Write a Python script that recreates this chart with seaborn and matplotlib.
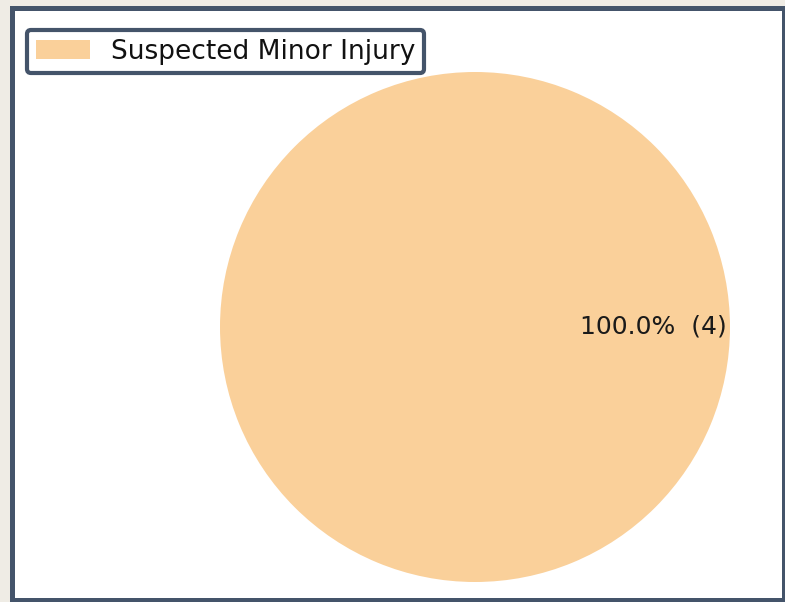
import matplotlib
matplotlib.use("Agg")
import matplotlib.pyplot as plt
from matplotlib.patches import Rectangle
import seaborn as sns

# Injury severity counts
categories = ["Suspected Minor Injury"]
counts = [4]
colors = ["#fad09a"]

sns.set_theme(style="white")
plt.rcParams["font.family"] = ["DejaVu Sans"]

W, H = 785, 602
fig = plt.figure(figsize=(W / 100, H / 100), dpi=100, facecolor="#efece5")

# Framed white panel
panel = Rectangle((11.5 / W, 2.5 / H), (781 - 11.5 + 2.5) / W, (592 - 2.5 + 2.5) / H,
                  transform=fig.transFigure, facecolor="white",
                  edgecolor="#44546a", linewidth=3.6, zorder=-5)
fig.patches.append(panel)

# Pie axes: square box around the pie
cx, cy, r = 475, 327, 255
ax = fig.add_axes([(cx - r) / W, (H - cy - r) / H, 2 * r / W, 2 * r / H])
ax.set_facecolor("none")
ax.set_zorder(1)

total = sum(counts)
wedges, texts, autotexts = ax.pie(
    counts,
    colors=colors,
    startangle=180,
    radius=1.0,
    pctdistance=0.70,
    autopct=lambda p: f"{p:.1f}%  ({round(p * total / 100)})",
    textprops={"fontsize": 18, "color": "#1a1a1a"},
    wedgeprops={"linewidth": 0},
)
ax.set_xlim(-1, 1)
ax.set_ylim(-1, 1)
ax.set_aspect("auto")
ax.axis("off")
for t in autotexts:
    t.set_clip_on(False)

leg = fig.legend(
    wedges, categories,
    loc="upper left",
    bbox_to_anchor=(27 / W, 1 - 30 / H),
    bbox_transform=fig.transFigure,
    borderaxespad=0,
    fontsize=19,
    handlelength=2.05,
    handleheight=0.75,
    handletextpad=0.8,
    borderpad=0.33,
    frameon=True,
    fancybox=True,
)
leg.set_zorder(5)
frame = leg.get_frame()
frame.set_edgecolor("#44546a")
frame.set_linewidth(3)
frame.set_facecolor("white")
frame.set_alpha(1)
frame.set_boxstyle("round", pad=0, rounding_size=0.15)
for txt in leg.get_texts():
    txt.set_color("#111111")

fig.savefig("out.png", dpi=100, facecolor=fig.get_facecolor())
